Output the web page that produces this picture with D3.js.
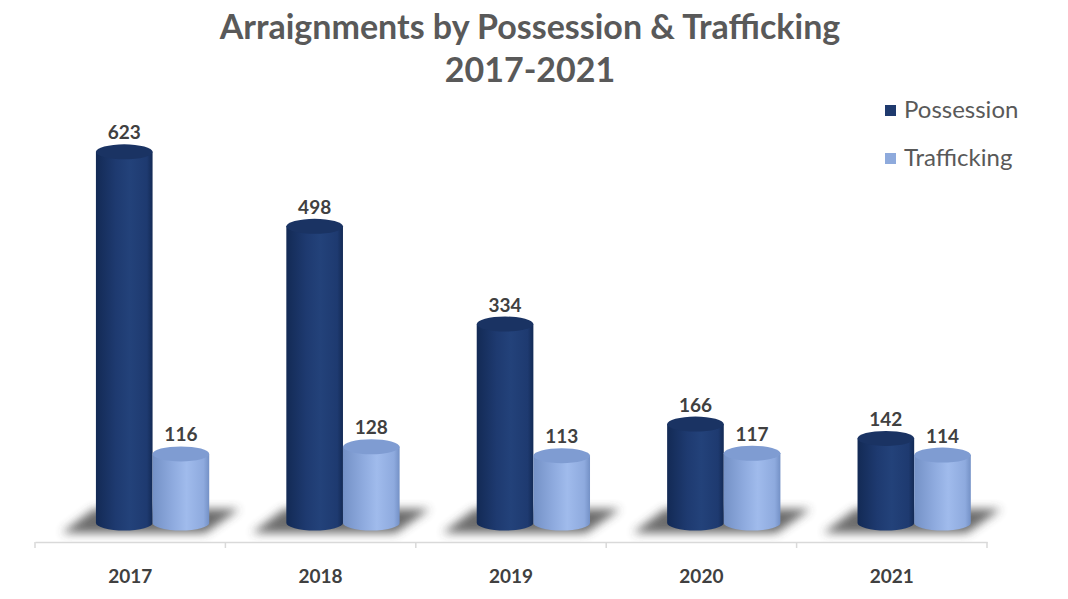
<!DOCTYPE html>
<html>
<head>
<meta charset="utf-8">
<script src="https://cdn.jsdelivr.net/npm/d3@7"></script>
<style>
  html, body { margin: 0; padding: 0; background: #ffffff; }
  svg { display: block; }
</style>
</head>
<body>
<svg id="chart" width="1068" height="599"></svg>
<script>
// Chart data
const years = ["2017", "2018", "2019", "2020", "2021"];
const seriesNames = ["Possession", "Trafficking"];
const possession = [623, 498, 334, 166, 142];
const trafficking = [116, 128, 113, 117, 114];
const titleLines = ["Arraignments by Possession & Trafficking", "2017-2021"];

const W = 1068, H = 599;
const svg = d3.select("#chart");
const defs = svg.append("defs");

const fontFamily = "Lato, 'Open Sans', sans-serif";

// Cylinder colours
const palette = {
  Possession: { edge: "#132a55", mid: "#1e3a70", hi: "#23427a", top: "#1a3363", legend: "#1f3a6e" },
  Trafficking: { edge: "#7491c6", mid: "#8eaade", hi: "#a0bbec", top: "#7f9cd2", legend: "#8eaadc" }
};

seriesNames.forEach(name => {
  const p = palette[name];
  const g = defs.append("linearGradient")
    .attr("id", "grad-" + name).attr("x1", "0%").attr("x2", "100%").attr("y1", "0%").attr("y2", "0%");
  g.append("stop").attr("offset", "0%").attr("stop-color", p.edge);
  g.append("stop").attr("offset", "35%").attr("stop-color", p.mid);
  g.append("stop").attr("offset", "60%").attr("stop-color", p.hi);
  g.append("stop").attr("offset", "90%").attr("stop-color", p.mid);
  g.append("stop").attr("offset", "100%").attr("stop-color", p.edge);
});

defs.append("filter").attr("id", "shadowBlur")
  .attr("x", "-30%").attr("y", "-60%").attr("width", "160%").attr("height", "220%")
  .append("feGaussianBlur").attr("stdDeviation", 5);

// Scales
const x0 = d3.scaleBand().domain(years).range([35, 987]).paddingInner(0).paddingOuter(0);
const bw = x0.bandwidth();
const x1 = d3.scaleBand().domain(seriesNames).range([bw * 0.32, bw * 0.915]).padding(0);
const y = d3.scaleLinear().domain([0, 700]).range([523, 106]);

const ry = 7.5;
const data = years.map((yr, i) => ({ year: yr, values: [
  { name: "Possession", value: possession[i] },
  { name: "Trafficking", value: trafficking[i] }
]}));

// Title
const title = svg.append("g").attr("fill", "#595959")
  .attr("font-family", fontFamily).attr("font-weight", 700).attr("text-anchor", "middle");
title.append("text").attr("x", 530).attr("y", 39).attr("font-size", 34).text(titleLines[0]);
title.append("text").attr("x", 530).attr("y", 82).attr("font-size", 34).text(titleLines[1]);

// Floor shadows behind each pair of cylinders
const groups = svg.append("g").selectAll("g.year").data(data).join("g")
  .attr("class", "year")
  .attr("transform", d => `translate(${x0(d.year)},0)`);

groups.append("polygon")
  .attr("points", () => {
    const l = x1.range()[0], r = x1.range()[1];
    const yb = y(0) + 10, yt = y(0) - 14;
    return [[l - 34, yb], [r - 4, yb], [r + 30, yt], [l - 2, yt]].map(p => p.join(",")).join(" ");
  })
  .attr("fill", "#3a3a3a").attr("opacity", 0.75)
  .attr("filter", "url(#shadowBlur)");

// Cylinders
const bars = groups.selectAll("g.bar").data(d => d.values).join("g").attr("class", "bar");

bars.each(function(d) {
  const g = d3.select(this);
  const xl = x1(d.name), w = x1.bandwidth();
  const cx = xl + w / 2, rx = w / 2;
  const yTop = y(d.value), yBot = y(0);
  const p = palette[d.name];
  // body with rounded bottom
  g.append("path")
    .attr("d", `M${xl},${yTop} L${xl},${yBot} A${rx},${ry} 0 0 0 ${xl + w},${yBot} L${xl + w},${yTop} Z`)
    .attr("fill", `url(#grad-${d.name})`);
  // top cap
  g.append("ellipse")
    .attr("cx", cx).attr("cy", yTop).attr("rx", rx).attr("ry", ry)
    .attr("fill", p.top);
  // value label
  g.append("text")
    .attr("x", cx).attr("y", yTop - ry - 5)
    .attr("text-anchor", "middle")
    .attr("font-family", fontFamily).attr("font-weight", 700).attr("font-size", 19)
    .attr("fill", "#404040")
    .text(d.value);
});

// Category axis
const axis = d3.axisBottom(x0).tickSize(0).tickPadding(0);
const axisG = svg.append("g").attr("transform", `translate(0,${542})`).call(axis);
axisG.select(".domain").attr("stroke", "#d9d9d9").attr("stroke-width", 1.5);
axisG.selectAll(".tick text")
  .attr("dy", 0).attr("y", 41)
  .attr("font-family", fontFamily).attr("font-weight", 700).attr("font-size", 19)
  .attr("fill", "#404040");
// boundary ticks between categories
const edges = years.map(yr => x0(yr)).concat([x0.range()[1]]);
axisG.selectAll("line.edge").data(edges).join("line")
  .attr("class", "edge")
  .attr("x1", d => d).attr("x2", d => d).attr("y1", 0).attr("y2", 6)
  .attr("stroke", "#d9d9d9").attr("stroke-width", 1.5);

// Legend
const legend = svg.append("g").selectAll("g").data(seriesNames).join("g")
  .attr("transform", (d, i) => `translate(885,${105 + i * 48})`);
legend.append("rect").attr("width", 11).attr("height", 11)
  .attr("fill", d => palette[d].legend);
legend.append("text").attr("x", 19).attr("y", 13)
  .attr("font-family", fontFamily).attr("font-size", 24).attr("fill", "#595959")
  .text(d => d);
</script>
</body>
</html>
